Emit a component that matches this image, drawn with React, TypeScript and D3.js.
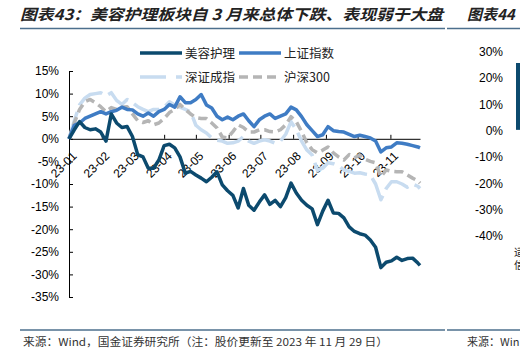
import * as d3 from 'd3';
import { useEffect, useRef } from 'react';

const W = 520;
const H = 352;

const title = '图表43：美容护理板块自 3 月来总体下跌、表现弱于大盘';
const nextTitle = '图表44';
const source = '来源：Wind，国金证券研究所（注：股价更新至 2023 年 11 月 29 日）';
const nextSource = '来源：Win';
const nextCutText = ['适', '信'];

const seriesNames = ['美容护理', '上证指数', '深证成指', '沪深300'];

const dates = [
  '01-01', '01-06', '01-11', '01-16', '01-21', '01-26', '01-31',
  '02-05', '02-10', '02-15', '02-20', '02-25',
  '03-02', '03-07', '03-12', '03-17', '03-22', '03-27',
  '04-01', '04-06', '04-11', '04-16', '04-21', '04-26',
  '05-01', '05-06', '05-11', '05-16', '05-21', '05-26', '05-31',
  '06-05', '06-10', '06-15', '06-20', '06-25', '06-30',
  '07-05', '07-10', '07-15', '07-20', '07-25', '07-30',
  '08-04', '08-09', '08-14', '08-19', '08-24', '08-29',
  '09-03', '09-08', '09-13', '09-18', '09-23', '09-28',
  '10-03', '10-08', '10-13', '10-18', '10-23', '10-28',
  '11-02', '11-07', '11-12', '11-17', '11-22', '11-27', '11-29',
];

const beauty = [
  0, 2.0, 3.8, 2.5, 2.0, 2.2, 1.5,
  -0.5, 5.5, 3.5, 2.5, 2.7,
  0.5, -3.5, -4.0, -6.5, -6.5, -4.7,
  -1.5, -1.2, -2.0, -4.0, -7.6, -7.2,
  -8.0, -8.7, -9.5, -8.5, -7.3, -10.2, -11.5,
  -12.5, -15.3, -11.0, -14.7, -15.8, -14.0,
  -12.4, -14.5, -13.6, -15.0, -13.0, -9.8,
  -12.0, -13.6, -14.7, -15.5, -19.0, -16.0,
  -13.6, -16.4, -16.5, -17.5, -19.5, -20.5,
  -21.0, -21.3, -22.4, -24.0, -28.5, -27.3,
  -27.0, -26.2, -26.9, -26.5, -26.4, -27.5, -28.0,
];

const shIndex = [
  0, 3.0, 3.5, 4.5, 5.0, 5.5, 6.0,
  5.5, 6.0, 6.3, 7.0, 6.5,
  6.4, 5.5, 5.0, 5.7, 5.0, 6.0,
  6.5, 7.6, 7.0, 9.3, 8.0, 8.0,
  8.7, 9.8, 7.5, 6.8, 5.0, 4.2, 4.8,
  4.2, 5.0, 5.5, 4.0, 2.7, 4.2,
  5.0, 5.5, 4.5, 5.0, 5.5, 7.0,
  6.4, 4.9, 3.1, 1.8, 0.5, 0.9,
  2.7, 1.8, 1.6, 1.5, 1.0, 0.5,
  0.8, 0.5, 0.2, -0.5, -2.9, -2.0,
  -1.8, -0.9, -1.0, -1.2, -1.5, -1.8, -2.0,
];

const szIndex = [
  0, 4.0, 7.5, 9.0, 9.8, 10.0, 10.2,
  9.5, 10.2, 8.5, 7.6, 8.7,
  8.0, 7.1, 6.5, 6.0, 6.5, 6.5,
  7.0, 8.2, 7.5, 7.0, 6.5, 6.0,
  3.0, 2.0, 1.3, 0.2, -0.3, -0.5, -1.0,
  -0.9, -0.5, 0.5, -0.5, -1.0, -0.5,
  -0.2, -0.5, -1.0, -0.5, 1.0, 3.8,
  2.0, -0.5, -2.5, -3.6, -7.0, -6.5,
  -5.3, -5.5, -6.0, -6.9, -7.2, -7.6,
  -7.5, -7.8, -8.0, -10.0, -13.5, -11.0,
  -9.5, -9.5, -10.0, -10.7, -10.0, -10.5, -11.0,
];

const hs300 = [
  0, 3.5, 6.5, 8.2, 8.7, 8.0, 7.1,
  6.0, 6.9, 6.5, 7.0, 7.1,
  5.5, 4.0, 3.6, 4.0, 3.1, 3.5,
  4.5, 5.8, 6.5, 7.6, 6.5, 5.5,
  4.7, 4.5, 4.5, 3.5, 2.4, 0.4, 0.2,
  1.6, 3.1, 2.5, 1.5, 1.5, 2.0,
  2.0, 1.6, 1.5, 2.0, 3.1, 4.9,
  3.8, 1.6, -0.9, -2.4, -3.1, -2.5,
  -1.8, -3.1, -4.0, -4.7, -3.5, -4.2,
  -3.6, -4.5, -5.0, -5.3, -8.4, -6.9,
  -7.2, -7.3, -7.3, -8.0, -8.7, -9.3, -9.8,
];

const yTicks = [15, 10, 5, 0, -5, -10, -15, -20, -25, -30, -35];
const rightTicks = [30, 20, 10, 0, -10, -20, -30, -40];

const styles = [
  { color: '#0c4a6e', dash: null },
  { color: '#3f7cc4', dash: null },
  { color: '#c8dcf0', dash: '28,7' },
  { color: '#b5b5b5', dash: '9,5' },
];

export default function App() {
  const ref = useRef<SVGSVGElement>(null);

  useEffect(() => {
    const svg = d3.select(ref.current);
    svg.selectAll('*').remove();

    const parse = d3.timeParse('%Y-%m-%d');
    const xs = dates.map((d) => parse(`2023-${d}`) as Date);

    const x = d3.scaleTime()
      .domain([xs[0], xs[xs.length - 1]])
      .range([69, 420]);
    const y = d3.scaleLinear().domain([-35, 15]).range([297, 71]);

    svg.append('rect').attr('width', W).attr('height', H).attr('fill', '#fff');

    // header / footer
    const cjk = '"Noto Sans CJK SC", sans-serif';
    svg.append('text')
      .attr('x', 20).attr('y', 20)
      .attr('textLength', 423).attr('lengthAdjust', 'spacingAndGlyphs')
      .style('font-family', cjk).style('font-size', '15px')
      .style('font-weight', 'bold').style('font-style', 'italic')
      .style('fill', '#222')
      .text(title);
    svg.append('text')
      .attr('x', 467).attr('y', 20)
      .style('font-family', cjk).style('font-size', '15px')
      .style('font-weight', 'bold').style('font-style', 'italic')
      .style('fill', '#222')
      .text(nextTitle);

    [[20, 445], [447, 520]].forEach(([a, b]) => {
      svg.append('line').attr('x1', a).attr('x2', b).attr('y1', 28.5).attr('y2', 28.5)
        .attr('stroke', '#4c6f8d').attr('stroke-width', 1.6);
      svg.append('line').attr('x1', a).attr('x2', b).attr('y1', 330).attr('y2', 330)
        .attr('stroke', '#4c6f8d').attr('stroke-width', 1.6);
    });

    svg.append('text')
      .attr('x', 23).attr('y', 346)
      .attr('textLength', 365).attr('lengthAdjust', 'spacingAndGlyphs')
      .style('font-family', cjk).style('font-size', '11px').style('fill', '#333')
      .text(source);
    svg.append('text')
      .attr('x', 467).attr('y', 346)
      .style('font-family', cjk).style('font-size', '11px').style('fill', '#333')
      .text(nextSource);

    // legend
    const legend = svg.append('g').style('font-family', cjk).style('font-size', '12.5px');
    seriesNames.forEach((name, i) => {
      const lx = i % 2 === 0 ? 140 : 239;
      const ly = i < 2 ? 53 : 77;
      legend.append('line')
        .attr('x1', lx).attr('x2', lx + 42).attr('y1', ly).attr('y2', ly)
        .attr('stroke', styles[i].color).attr('stroke-width', 3.5)
        .attr('stroke-dasharray', i === 2 ? '26,10' : styles[i].dash);
      legend.append('text')
        .attr('x', lx + 45).attr('y', ly).attr('dy', '0.36em')
        .style('fill', '#222')
        .text(name);
    });

    // axes
    const font = '"Liberation Sans", Arial, sans-serif';
    const yAxis = svg.append('g')
      .attr('transform', 'translate(69,0)')
      .call(d3.axisLeft(y).tickValues(yTicks).tickSize(-4).tickSizeOuter(-4).tickPadding(10)
        .tickFormat((d) => `${d}%`));
    yAxis.selectAll('path, line').attr('stroke', '#000');
    yAxis.selectAll('text').style('font-family', font).style('font-size', '12px').style('fill', '#000');

    const xAxis = svg.append('g')
      .attr('transform', `translate(0,${y(0)})`)
      .call(d3.axisBottom(x).ticks(d3.timeMonth.every(1)).tickSize(-4).tickSizeOuter(0)
        .tickFormat(d3.timeFormat('%y-%m') as any));
    xAxis.selectAll('path, line').attr('stroke', '#000');
    xAxis.selectAll('text')
      .attr('x', 0).attr('y', 0).attr('dy', '0.35em')
      .attr('transform', 'translate(5,15) rotate(-45)')
      .attr('text-anchor', 'end')
      .style('font-family', font).style('font-size', '12px').style('fill', '#000');

    // lines
    const allSeries = [beauty, shIndex, szIndex, hs300];
    const line = d3.line<number>()
      .x((_, i) => x(xs[i]))
      .y((v) => y(v));
    [2, 3, 1, 0].forEach((i) => {
      svg.append('path')
        .attr('d', line(allSeries[i]))
        .attr('fill', 'none')
        .attr('stroke', styles[i].color)
        .attr('stroke-width', 3.5)
        .attr('stroke-linejoin', 'round')
        .attr('stroke-dasharray', styles[i].dash);
    });

    // cut-off neighbour chart on the right
    const yr = d3.scaleLinear().domain([-40, 30]).range([236, 52]);
    svg.append('g').selectAll('text')
      .data(rightTicks)
      .enter()
      .append('text')
      .attr('x', 503)
      .attr('y', (d) => yr(d))
      .attr('dy', '0.35em')
      .attr('text-anchor', 'end')
      .style('font-family', font).style('font-size', '12px').style('fill', '#000')
      .text((d) => `${d}%`);
    svg.append('rect')
      .attr('x', 516).attr('y', 63).attr('width', 4).attr('height', yr(0) - 64)
      .attr('fill', '#0c4a6e');
    nextCutText.forEach((t, i) => {
      svg.append('text')
        .attr('x', 514).attr('y', 256 + i * 13)
        .style('font-family', cjk).style('font-size', '10.5px').style('fill', '#222')
        .text(t);
    });
  }, []);

  return (
    <svg
      ref={ref}
      width={W}
      height={H}
      style={{ position: 'absolute', left: 0, top: 0, display: 'block' }}
    />
  );
}
